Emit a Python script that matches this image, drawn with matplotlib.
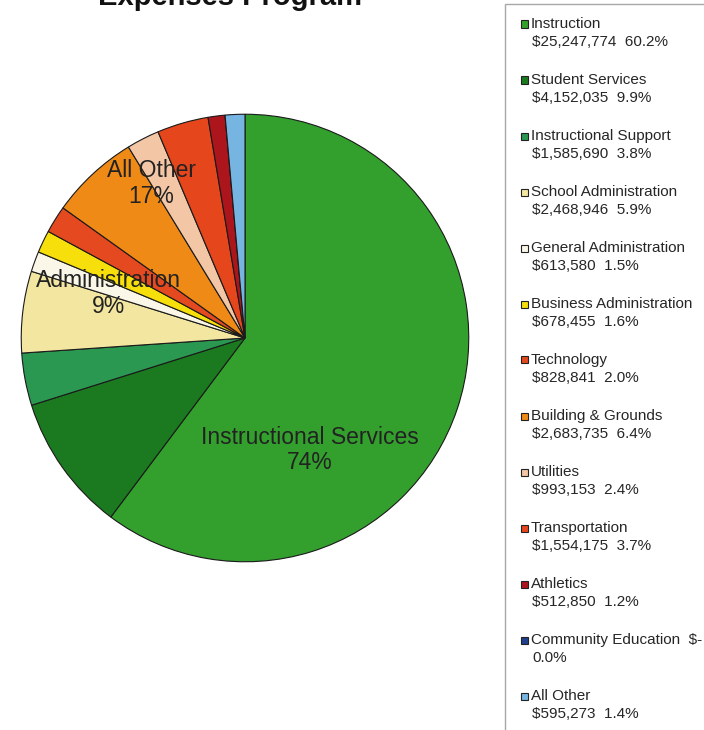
import matplotlib.pyplot as plt
from matplotlib.patches import Rectangle

plt.rcParams['font.family'] = ['Liberation Sans', 'DejaVu Sans']

# expense categories, dollars and shares
categories = ['Instruction', 'Student Services', 'Instructional Support',
              'School Administration', 'General Administration',
              'Business Administration', 'Technology', 'Building & Grounds',
              'Utilities', 'Transportation', 'Athletics',
              'Community Education', 'All Other']
amounts = [25247774, 4152035, 1585690, 2468946, 613580, 678455, 828841,
           2683735, 993153, 1554175, 512850, 0, 595273]
amount_text = ['$25,247,774', '$4,152,035', '$1,585,690', '$2,468,946',
               '$613,580', '$678,455', '$828,841', '$2,683,735', '$993,153',
               '$1,554,175', '$512,850', '$-', '$595,273']
shares = ['60.2%', '9.9%', '3.8%', '5.9%', '1.5%', '1.6%', '2.0%', '6.4%',
          '2.4%', '3.7%', '1.2%', '0.0%', '1.4%']
colors = ['#33a02e', '#1b7a1f', '#2a9850', '#f3e6a0', '#fbf7e8', '#f6df0a',
          '#e4491f', '#ef8a16', '#f3c6a6', '#e6461c', '#ad151d', '#1f3f8f',
          '#76b5e2']

# group labels drawn on the pie
group_names = ['Instructional Services', 'Administration', 'All Other']
group_pcts = ['74%', '9%', '17%']
group_pos = [(0.29, -0.50), (-0.61, 0.20), (-0.42, 0.69)]

W, H = 704, 730
fig = plt.figure(figsize=(W/100, H/100), dpi=100)
ax = fig.add_axes([19/W, (H-338-226)/H, 452/W, 452/H])

wedges, _ = ax.pie(amounts, colors=colors, startangle=90, counterclock=False,
                   wedgeprops={'edgecolor': '#1a1a1a', 'linewidth': 0.8})
ax.set_xlim(-1.01, 1.01)
ax.set_ylim(-1.01, 1.01)
ax.set_aspect('equal')

for name, pct, (x, y) in zip(group_names, group_pcts, group_pos):
    ax.text(x, y, name + '\n' + pct, ha='center', va='center',
            fontsize=16.5, color='#222222', linespacing=1.15)

fig.text(230/W, 1 - 5/H, 'Expenses Program', ha='center', va='baseline',
         fontsize=21, fontweight='bold', color='#111111')

# legend drawn by hand: box with only top/left edges showing
fig.add_artist(Rectangle((505/W, -20/H), 260/W, (H - 4 + 20)/H,
                         transform=fig.transFigure, facecolor='none',
                         edgecolor='#a8a8a8', linewidth=1.0, clip_on=False))
for i in range(len(categories)):
    y1 = 24 + 56*i
    y2 = y1 + 18
    if categories[i] == 'Community Education':
        line1 = categories[i] + '  ' + amount_text[i]
        line2 = shares[i]
    else:
        line1 = categories[i]
        line2 = amount_text[i] + '  ' + shares[i]
    fig.add_artist(Rectangle((521/W, 1 - (y1 + 3.5)/H), 7/W, 7/H,
                             transform=fig.transFigure, facecolor=colors[i],
                             edgecolor='#222222', linewidth=0.8))
    fig.text(531/W, 1 - y1/H, line1, ha='left', va='center',
             fontsize=11, color='#262626')
    fig.text(532/W, 1 - y2/H, line2, ha='left', va='center',
             fontsize=11, color='#262626')

fig.savefig('out.png', dpi=100)
